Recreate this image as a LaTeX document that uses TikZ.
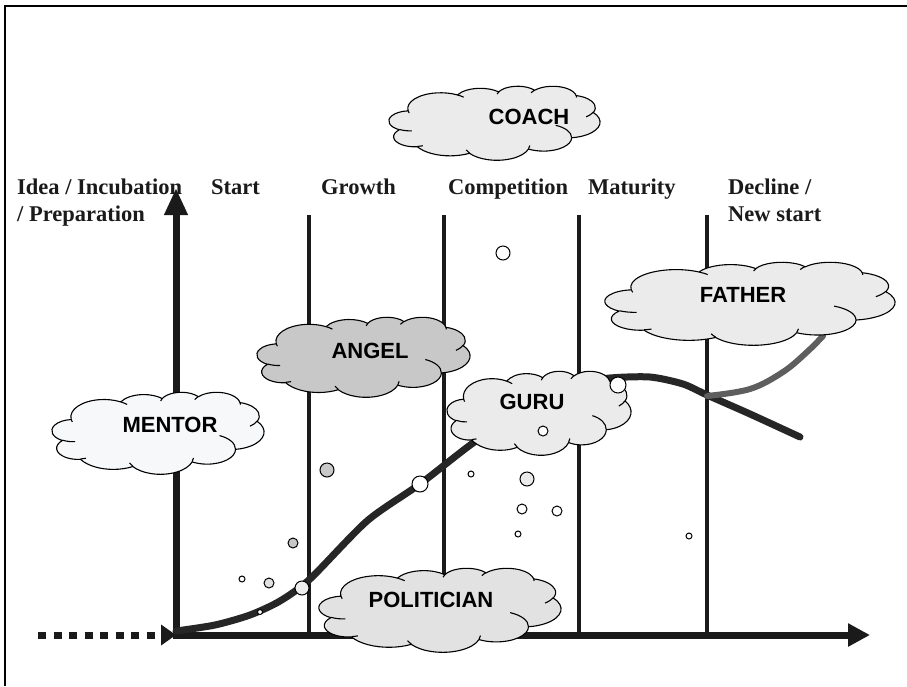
\documentclass[tikz,border=0pt]{standalone}
\usepackage{fontspec}
\newfontfamily\stagefont{Liberation Serif}
\newfontfamily\rolefont{Liberation Sans}
\usetikzlibrary{arrows.meta}

\definecolor{ink}{HTML}{1A1A1A}
\definecolor{curveink}{HTML}{262626}
\definecolor{branchink}{HTML}{5E5E5E}
\definecolor{puffLight}{HTML}{EBEBEB}
\definecolor{puffMid}{HTML}{E2E2E2}
\definecolor{puffDark}{HTML}{C8C8C8}
\definecolor{puffPale}{HTML}{F7F8FA}
\definecolor{dotLight}{HTML}{EEEEEE}

% visual (ray) angle on an ellipse -> parametric angle
\pgfmathdeclarefunction{cvis}{3}{%
  \begingroup
    \pgfmathparse{atan2((#1)*sin(#3),(#2)*cos(#3))-(#3)}%
    \let\cvd\pgfmathresult
    \pgfmathparse{(#3)+\cvd-360*round(\cvd/360)}%
    \pgfmathsmuggle\pgfmathresult
  \endgroup}

% one puff of the cloud outline: radii w,h (path units), start angle, sweep
\newcommand\carc[4]{arc[start angle={-cvis(#1,#2,#3)},
  delta angle={cvis(#1,#2,#3)-cvis(#1,#2,#3+#4)},
  x radius={\cW*#1/43.2*1pt}, y radius={\cH*#2/43.2*1pt}]}

% cloud in the box (left, top, width, height), filled with #5
\newcommand\officecloud[5]{%
 \def\cX{#1}\def\cY{#2}\def\cW{#3}\def\cH{#4}%
 \filldraw[cloudline, fill=#5]
  ({\cX+\cW*3.900/43.2},{\cY+\cH*14.370/43.2})
  \carc{6.753}{9.190}{-190.48748}{123.78053}
  \carc{5.333}{7.267}{-144.10238}{89.94523}
  \carc{4.365}{5.945}{-145.80792}{99.72302}
  \carc{4.857}{6.595}{-130.98607}{117.24173}
  \carc{5.333}{7.273}{-78.70888}{109.02692}
  \carc{6.775}{9.220}{-46.26725}{130.26900}
  \carc{5.785}{7.867}{0.62502}{114.03333}
  \carc{6.752}{9.215}{22.45160}{115.17255}
  \carc{7.720}{10.543}{66.24263}{75.71102}
  \carc{4.360}{5.918}{-274.94208}{146.73557}
  \carc{4.345}{5.945}{-246.82850}{152.51885}
  -- cycle;
 \draw[cloudline]
  ({\cX+\cW*4.693/43.2},{\cY+\cH*26.177/43.2}) \carc{4.345}{5.945}{86.742}{26.4295}
  ({\cX+\cW*6.928/43.2},{\cY+\cH*34.899/43.2}) \carc{4.360}{5.918}{73.61047}{11.44747}
  ({\cX+\cW*16.478/43.2},{\cY+\cH*39.090/43.2}) \carc{6.752}{9.215}{137.62415}{14.0811}
  ({\cX+\cW*28.827/43.2},{\cY+\cH*34.751/43.2}) \carc{6.752}{9.215}{6.45327}{15.99835}
  ({\cX+\cW*34.129/43.2},{\cY+\cH*22.954/43.2}) \carc{5.785}{7.867}{-70.29235}{70.91737}
  ({\cX+\cW*41.798/43.2},{\cY+\cH*15.354/43.2}) \carc{5.333}{7.273}{30.31803}{27.7515}
  ({\cX+\cW*38.324/43.2},{\cY+\cH*5.426/43.2}) \carc{4.857}{6.595}{-13.74433}{14.8589}
  ({\cX+\cW*29.078/43.2},{\cY+\cH*3.952/43.2}) \carc{4.857}{6.595}{-149.18145}{18.19537}
  ({\cX+\cW*22.141/43.2},{\cY+\cH*4.720/43.2}) \carc{4.365}{5.945}{-163.49427}{17.68635}
  ({\cX+\cW*14.000/43.2},{\cY+\cH*5.192/43.2}) \carc{6.753}{9.190}{-66.70695}{12.31935}
  ({\cX+\cW*4.127/43.2},{\cY+\cH*15.789/43.2}) \carc{6.753}{9.190}{157.65435}{11.85817};
}

\begin{document}
\begin{tikzpicture}[x=1pt,y=-1pt,
  stagelabel/.style={anchor=base west, inner sep=0pt, text=ink,
    font=\stagefont\bfseries\fontsize{22.5}{27}\selectfont},
  rolelabel/.style={inner sep=0pt, text=black,
    font=\rolefont\bfseries\fontsize{22}{26}\selectfont},
  cloudline/.style={draw=black, line width=1.1pt, line join=round},
  bubble/.style={circle, draw=black, line width=1pt, inner sep=0pt, fill=white},
  divider/.style={draw=ink, line width=4.5pt},
  axisline/.style={draw=ink, line width=7pt},
]
\useasboundingbox (0,0) rectangle (907,686);

% frame
\draw[line width=2.5pt] (5,686) -- (5,6) -- (907,6);

% phase dividers
\foreach \px in {309,444,579,707}
  \draw[divider] (\px,215) -- (\px,635);

% axes
\coordinate (O) at (176,635);
\coordinate (Ofoot) at (176,638.5);
\coordinate (Oleft) at (172.5,635);
\coordinate (ytip) at (176,188);
\coordinate (xtip) at (870,635);
\coordinate (lead) at (38,635);
\draw[axisline, -{Triangle[length=27pt,width=22pt]}] (Ofoot) -- (ytip);
\draw[axisline, -{Triangle[length=22pt,width=22pt]}] (Oleft) -- (xtip);
\draw[axisline, dash pattern=on 8pt off 7.5pt, -{Triangle[length=15pt,width=20pt]}] (lead) -- (O);

% phase labels
\node[stagelabel] (idea) at (17,194) {Idea / Incubation};
\node[stagelabel] (prep) at (17,221) {/ Preparation};
\node[stagelabel] (start) at (211,194) {Start};
\node[stagelabel] (growth) at (321,194) {Growth};
\node[stagelabel] (competition) at (448,194) {Competition};
\node[stagelabel] (maturity) at (588,194) {Maturity};
\node[stagelabel] (decline) at (728,194) {Decline /};
\node[stagelabel] (newstart) at (728,221) {New start};

% life-cycle curve and the new-start branch
\draw[curveink, line width=7pt, line cap=round, line join=round]
  plot[smooth, tension=0.45] coordinates {(176,631) (215,625) (250,615) (280,601)
    (310,579) (367,521) (420,484) (473,443) (530,405)
    (575,384) (610,378) (650,377) (683,384) (707,395) (750,414) (800,437)};
\draw[branchink, line width=6pt, line cap=round]
  plot[smooth, tension=0.6] coordinates {(707,396) (750,389) (783,372) (807,352) (823,336)};

% role clouds
\officecloud{389}{86}{211}{74}{puffLight}
\node[rolelabel] (coach) at (529,117) {COACH};
\officecloud{257}{317}{213}{80}{puffDark}
\node[rolelabel] (angel) at (370,351) {ANGEL};
\officecloud{52}{392}{212}{82}{puffPale}
\node[rolelabel] (mentor) at (170,425) {MENTOR};
\officecloud{447}{371}{184}{84}{puffLight}
\node[rolelabel] (guru) at (532,402) {GURU};
\officecloud{605}{262}{290}{83}{puffLight}
\node[rolelabel] (father) at (743,295) {FATHER};
\officecloud{319}{568}{242}{84}{puffMid}
\node[rolelabel] (politician) at (431,600) {POLITICIAN};

% bubbles
\node[bubble, minimum size=14pt] (b1) at (503,253) {};
\node[bubble, minimum size=16pt] (b2) at (618,385) {};
\node[bubble, minimum size=10pt] (b3) at (543,431) {};
\node[bubble, minimum size=6pt] (b4) at (242,579) {};
\node[bubble, minimum size=5pt] (b5) at (260,612) {};
\node[bubble, minimum size=16pt] (b6) at (420,484) {};
\node[bubble, minimum size=6pt] (b7) at (471,474) {};
\node[bubble, minimum size=10pt] (b8) at (522,509) {};
\node[bubble, minimum size=10pt] (b9) at (557,511) {};
\node[bubble, minimum size=6pt] (b10) at (518,534) {};
\node[bubble, minimum size=6pt] (b11) at (689,536) {};
\node[bubble, minimum size=14pt, fill=dotLight] (b12) at (302,588) {};
\node[bubble, minimum size=10pt, fill=puffMid] (b13) at (269,583) {};
\node[bubble, minimum size=14pt, fill=puffLight] (b14) at (527,479) {};
\node[bubble, minimum size=14pt, fill=puffDark] (b15) at (327,470) {};
\node[bubble, minimum size=10pt, fill=puffDark] (b16) at (293,543) {};
\end{tikzpicture}
\end{document}
